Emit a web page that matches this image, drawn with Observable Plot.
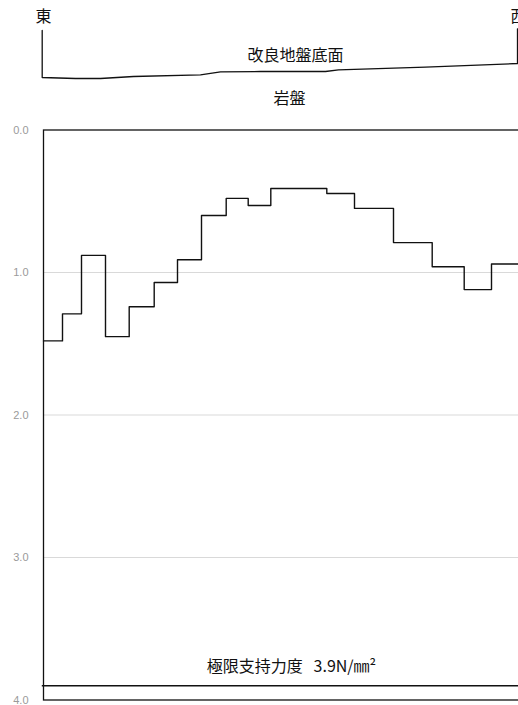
<!DOCTYPE html>
<html>
<head>
<meta charset="utf-8">
<script src="https://cdn.jsdelivr.net/npm/d3@7"></script>
<script src="https://cdn.jsdelivr.net/npm/@observablehq/plot@0.6"></script>
<style>
  html, body { margin: 0; padding: 0; overflow: hidden; background: #fff; }
  #chart { width: 545px; }
  #chart svg { display: block; overflow: visible; max-width: none !important; }
</style>
</head>
<body>
<div id="chart"></div>
<script>
// Step boundaries (distance from east end) and values (N/mm²)
const stepX = [0, 19, 38, 62, 85.7, 110.7, 134, 158, 182.7, 204.7, 227.3, 283.3, 311, 350, 388.7, 420.7, 448];
const stepVal = [1.48, 1.29, 0.88, 1.45, 1.24, 1.07, 0.91, 0.60, 0.48, 0.53, 0.41, 0.446, 0.55, 0.79, 0.96, 1.12, 0.94];
const xEnd = 502;
const gridValues = [1, 2, 3];
const yTicks = [0, 1, 2, 3, 4];
const capacity = 3.9;
const capacityLabel = "極限支持力度\u00A0\u00A0\u00A03.9N/㎜²";

// Profile of improved ground bottom (distance, level)
const profileX = [-1.3, -1.3, 32, 57, 90, 157, 177, 217, 282, 295, 382, 474, 474];
const profileLevel = [90, 43, 42, 42, 44, 45.7, 48.7, 49, 49, 50.7, 53.3, 57, 91.7];
const topLabels = [
  {x: 0, v: 104, text: "東"},
  {x: 475, v: 104, text: "西"},
  {x: 252, v: 65, text: "改良地盤底面"},
  {x: 246, v: 22, text: "岩盤"}
];

const steps = stepX.map((x, i) => ({x, v: stepVal[i]}));
steps.push({x: xEnd, v: stepVal[stepVal.length - 1]});
const profile = profileX.map((x, i) => ({x, v: profileLevel[i]}));

const font = "'Noto Sans CJK JP', 'Noto Sans', sans-serif";

const topChart = Plot.plot({
  width: 545,
  height: 120,
  marginLeft: 43,
  marginRight: 0,
  marginTop: 0,
  marginBottom: 0,
  style: {fontFamily: font},
  x: {domain: [0, xEnd], axis: null},
  y: {domain: [0, 120], range: [120, 0], axis: null},
  marks: [
    Plot.line(profile, {x: "x", y: "v", stroke: "#111", strokeWidth: 1.3}),
    Plot.text(topLabels, {x: "x", y: "v", text: "text", fontSize: 16, fill: "#111"})
  ]
});

const mainChart = Plot.plot({
  width: 545,
  height: 585,
  marginLeft: 43,
  marginRight: 0,
  marginTop: 9.5,
  marginBottom: 5.5,
  style: {fontFamily: font},
  x: {domain: [0, xEnd], axis: null},
  y: {domain: [0, 4], reverse: true, axis: null},
  marks: [
    Plot.ruleY(gridValues, {stroke: "#d9d9d9", strokeWidth: 1}),
    Plot.axisY(yTicks, {label: null, tickFormat: d3.format(".1f"), tickSize: 0, tickPadding: 15, fontSize: 11, fill: "#9a9a9a", fontFamily: "'Liberation Sans', sans-serif"}),
    Plot.ruleY([capacity], {x1: -1.2, x2: xEnd, stroke: "#111", strokeWidth: 1.3}),
    Plot.text([capacity], {x: 248, y: d => d, text: () => capacityLabel, dy: -19, fontSize: 16, fill: "#111"}),
    Plot.line(steps, {x: "x", y: "v", curve: "step-after", stroke: "#111", strokeWidth: 1.4}),
    Plot.frame({stroke: "#111", strokeWidth: 1.3})
  ]
});

document.getElementById("chart").append(topChart, mainChart);
</script>
</body>
</html>
